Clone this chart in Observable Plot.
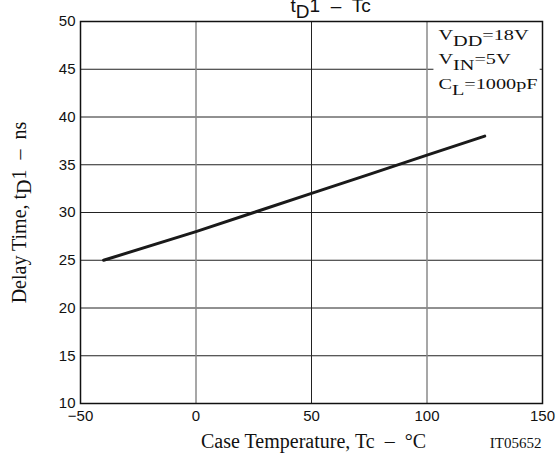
<!DOCTYPE html>
<html><head><meta charset="utf-8">
<script src="https://cdn.jsdelivr.net/npm/d3@7"></script>
<script src="https://cdn.jsdelivr.net/npm/@observablehq/plot@0.6"></script>
<style>body{margin:0;background:#fff} svg{display:block}</style>
</head><body><div id="chart"></div>
<script>
// ---- data ----
const tempC   = [-40, 0, 25, 50, 75, 100, 125];
const delayNs = [25, 28.0, 30.0, 32.0, 34.0, 36.0, 38.0];
const xTicks = [-50, 0, 50, 100, 150];
const yTicks = [10, 15, 20, 25, 30, 35, 40, 45, 50];
const xGridGray = [0, 100];
const xGridBlack = [50];
const yGrid = [15, 20, 25, 30, 35, 40, 45];
const NB = "\u00a0";
const titleParts  = [["t", 0], ["D", 1], ["1", 0], [NB + " – " + NB + "Tc", 0]];
const yLabelParts = [["Delay Time, t", 0], ["D", 1], ["1", 0], [NB + " – " + NB + "ns", 0]];
const xLabelText  = "Case Temperature, Tc" + NB + " – " + NB + "°C";
const figureCode  = "IT05652";
const legendLines = [
  [["V", 0], ["DD", 1], ["=18V", 0]],
  [["V", 0], ["IN", 1], ["=5V", 0]],
  [["C", 0], ["L", 1], ["=1000pF", 0]]
];
const legendBox = [{x1: 103, x2: 149, y1: 41, y2: 50}];

const points = tempC.map((t, i) => ({t, d: delayNs[i]}));
const plain = parts => parts.map(p => p[0]).join("");
const SERIF = "Liberation Serif, Times New Roman, serif";
const SANS = "Liberation Sans, Arial, Helvetica, sans-serif";

const marks = [
  Plot.ruleY(yGrid, {stroke: "#222", strokeWidth: 1}),
  Plot.rect(legendBox, {x1: "x1", x2: "x2", y1: "y1", y2: "y2", fill: "white"}),
  Plot.ruleX(xGridGray, {stroke: "#8a8a8a", strokeWidth: 1.5}),
  Plot.ruleX(xGridBlack, {stroke: "#222", strokeWidth: 1}),
  Plot.frame({stroke: "#111", strokeWidth: 1.5}),
  Plot.axisX(xTicks, {tickSize: 0, tickPadding: 7, label: null, fontSize: 15}),
  Plot.axisY(yTicks, {tickSize: 0, tickPadding: 5, label: null, fontSize: 15}),
  Plot.line(points, {x: "t", y: "d", stroke: "#1a1a1a", strokeWidth: 3}),
  Plot.text([plain(titleParts)], {text: d => d, frameAnchor: "top-left", dx: 210, dy: -10,
    textAnchor: "start", lineAnchor: "bottom", fontSize: 19, fontFamily: SANS, fill: "#111"}),
  Plot.text([plain(yLabelParts)], {text: d => d, frameAnchor: "left", dx: -55, rotate: -90,
    textAnchor: "middle", lineAnchor: "bottom", fontSize: 20, fontFamily: SERIF, fill: "#111"}),
  Plot.text([xLabelText], {text: d => d, frameAnchor: "bottom", dx: 2, dy: 44,
    textAnchor: "middle", lineAnchor: "bottom", fontSize: 20, fontFamily: SERIF, fill: "#111"}),
  Plot.text([figureCode], {text: d => d, frameAnchor: "bottom-right", dx: -1, dy: 44,
    textAnchor: "end", lineAnchor: "bottom", fontSize: 15, fontFamily: SERIF, fill: "#111"}),
  ...legendLines.map((line, i) => Plot.text([plain(line)], {text: d => d, frameAnchor: "top-left",
    dx: 358, dy: 18.5 + i * 24.3, textAnchor: "start", lineAnchor: "bottom",
    fontSize: 15, fontFamily: SERIF, fill: "#111"}))
];

const chart = Plot.plot({
  width: 560, height: 454,
  marginLeft: 80, marginRight: 18, marginTop: 21, marginBottom: 51,
  x: {domain: [-50, 150]},
  y: {domain: [10, 50]},
  style: {fontFamily: SANS, fontSize: "15px", color: "#111", background: "white"},
  marks
});
document.getElementById("chart").append(chart);

// rich text: subscripts and horizontal stretch
function richify(parts, shift, scaleX) {
  const target = plain(parts);
  d3.select(chart).selectAll("text").filter(function () { return this.textContent === target; })
    .each(function () {
      const t = d3.select(this);
      t.text(null);
      let down = false;
      for (const [s, sub] of parts) {
        const ts = t.append("tspan").text(s);
        if (sub && !down) { ts.attr("dy", shift); down = true; }
        else if (!sub && down) { ts.attr("dy", -shift); down = false; }
      }
      if (scaleX && scaleX !== 1) {
        let tr = t.attr("transform");
        if (!tr) {
          const x = +t.attr("x") || 0, y = +t.attr("y") || 0;
          tr = `translate(${x},${y})`;
          t.attr("x", null).attr("y", null);
        }
        t.attr("transform", tr + ` scale(${scaleX},1)`);
      }
    });
}
richify(titleParts, 6, 1);
richify(yLabelParts, 5, 1);
legendLines.forEach(line => richify(line, 6, 1.35));
</script>
</body></html>
